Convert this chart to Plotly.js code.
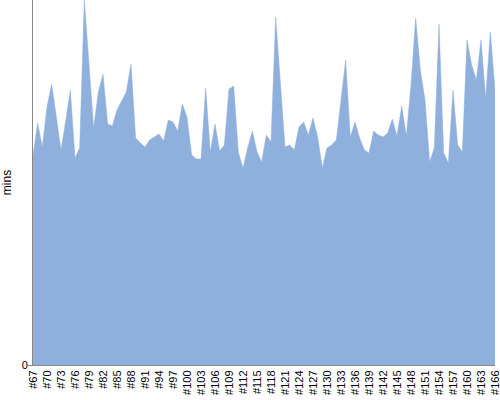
<!DOCTYPE html>
<html>
<head>
<meta charset="utf-8">
<script src="https://cdn.plot.ly/plotly-3.0.1.min.js"></script>
<style>html,body{margin:0;padding:0;background:#fff;}#chart{width:500px;height:400px;}</style>
</head>
<body>
<div id="chart"></div>
<script>
const firstBuild = 67;
const lastBuild = 166;
const categories = [];
for (let n = firstBuild; n <= lastBuild; n++) categories.push('#' + n);

// duration in minutes (arbitrary scale with axis max = 36.5)
const durations = [
  21.0, 24.2, 21.8, 25.8, 28.1, 24.7, 21.5, 24.4, 27.5, 20.7,
  21.7, 36.5, 30.2, 23.7, 27.3, 29.1, 24.1, 23.9, 25.5, 26.4,
  27.3, 30.1, 22.7, 22.2, 21.8, 22.5, 22.8, 23.1, 22.4, 24.5,
  24.3, 23.4, 26.1, 24.8, 21.0, 20.6, 20.6, 27.7, 21.3, 24.1,
  21.4, 22.0, 27.6, 27.9, 21.3, 19.7, 21.7, 23.4, 21.3, 20.3,
  23.0, 22.3, 34.8, 28.0, 21.8, 22.0, 21.5, 23.8, 24.3, 23.0,
  24.7, 22.8, 19.7, 21.7, 22.0, 22.5, 26.5, 30.5, 22.8, 24.3,
  22.7, 21.5, 21.2, 23.4, 23.0, 22.8, 23.2, 24.6, 22.9, 25.9,
  22.9, 28.0, 34.7, 29.5, 26.5, 20.3, 21.7, 34.1, 21.2, 20.2,
  27.5, 22.0, 21.3, 32.5, 30.0, 28.5, 32.5, 26.7, 33.3, 27.5
];

const tickIdx = [];
for (let i = 0; i < categories.length; i += 3) tickIdx.push(categories[i]);

const trace = {
  x: categories,
  y: durations,
  type: 'scatter',
  mode: 'lines',
  fill: 'tozeroy',
  fillcolor: 'rgb(143,176,220)',
  line: {color: 'rgb(143,176,220)', width: 0.5},
  hoverinfo: 'x+y'
};

const layout = {
  width: 500, height: 400,
  margin: {l: 33, r: 5, t: 0, b: 35, pad: 0},
  paper_bgcolor: '#fff', plot_bgcolor: '#fff',
  showlegend: false,
  font: {family: 'Liberation Sans, Arial, sans-serif', size: 11, color: '#000'},
  xaxis: {
    type: 'category',
    range: [0, categories.length - 1],
    tickmode: 'array',
    tickvals: tickIdx,
    ticktext: tickIdx,
    tickangle: -90,
    ticks: '',
    showgrid: false,
    zeroline: false,
    showline: true,
    linecolor: '#888',
    linewidth: 1,
    tickfont: {size: 11, color: '#000'}
  },
  yaxis: {
    range: [0, 36.5],
    tickmode: 'array',
    tickvals: [0],
    ticktext: ['0'],
    ticks: 'outside',
    ticklen: 4,
    tickcolor: '#888',
    ticklabelstandoff: -2,
    showgrid: false,
    zeroline: false,
    showline: true,
    linecolor: '#888',
    linewidth: 1,
    title: {text: 'mins', font: {size: 12, color: '#000'}, standoff: 10},
    tickfont: {size: 11, color: '#000'}
  }
};

Plotly.newPlot('chart', [trace], layout, {displayModeBar: false, staticPlot: true});
</script>
</body>
</html>
